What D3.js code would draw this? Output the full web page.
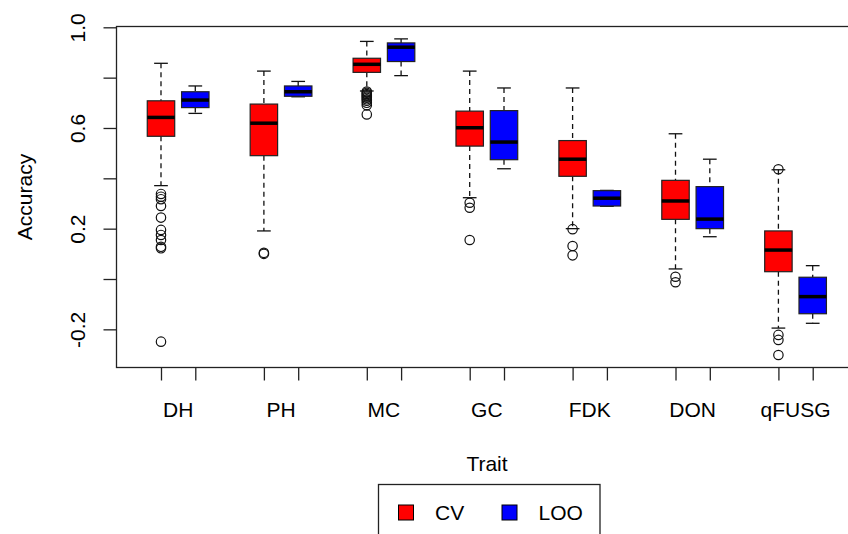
<!DOCTYPE html>
<html>
<head>
<meta charset="utf-8">
<script src="https://cdn.jsdelivr.net/npm/d3@7"></script>
<style>
  body { margin: 0; background: #fff; }
  svg text { font-family: "Liberation Sans", Arial, sans-serif; fill: #000; }
</style>
</head>
<body>
<div id="chart"></div>
<script>
// traits along the x axis
var traits = ["DH", "PH", "MC", "GC", "FDK", "DON", "qFUSG"];

// CV boxes (red)
var cvLow    = [0.371, 0.191, 0.747, 0.323, 0.200, 0.040, -0.195];
var cvQ1     = [0.567, 0.490, 0.821, 0.528, 0.408, 0.237, 0.029];
var cvMedian = [0.642, 0.619, 0.853, 0.601, 0.476, 0.310, 0.115];
var cvQ3     = [0.708, 0.695, 0.877, 0.667, 0.550, 0.392, 0.191];
var cvHigh   = [0.857, 0.826, 0.944, 0.826, 0.759, 0.577, 0.434];
var cvOut = [
    [0.338, 0.327, 0.317, 0.290, 0.244, 0.195, 0.175, 0.155, 0.128, 0.122, -0.249],
    [0.104, 0.100],
    [0.745, 0.740, 0.735, 0.730, 0.725, 0.720, 0.714, 0.708, 0.700, 0.690, 0.654],
    [0.303, 0.283, 0.155],
    [0.198, 0.131, 0.094],
    [0.009, -0.013],
    [0.436, -0.222, -0.242, -0.302]
];

// LOO boxes (blue)
var looLow    = [0.658, 0.724, 0.808, 0.438, 0.289, 0.168, -0.176];
var looQ1     = [0.681, 0.726, 0.864, 0.474, 0.290, 0.200, -0.138];
var looMedian = [0.711, 0.744, 0.921, 0.544, 0.321, 0.238, -0.070];
var looQ3     = [0.744, 0.767, 0.938, 0.669, 0.351, 0.367, 0.007];
var looHigh   = [0.767, 0.785, 0.954, 0.759, 0.352, 0.476, 0.053];
var looOut = [[], [], [], [], [], [], []];

var yTicks = [-0.2, 0, 0.2, 0.4, 0.6, 0.8, 1.0];
var yLabels = ["-0.2", "", "0.2", "", "0.6", "", "1.0"];

var seriesNames = ["CV", "LOO"];
var seriesColors = ["#ff0000", "#0000ff"];

var width = 848, height = 534;

var svg = d3.select("#chart").append("svg")
    .attr("width", width)
    .attr("height", height);

var x = d3.scaleLinear()
    .domain([-0.3, 21.3])
    .range([116.4, 857.3]);

var y = d3.scaleLinear()
    .domain([-0.3524, 1.0052])
    .range([367.7, 26]);

// one record per box, CV at 3k+1 and LOO at 3k+2
var boxes = [];
traits.forEach(function(t, i) {
    boxes.push({ pos: 3 * i + 1, s: 0, low: cvLow[i], q1: cvQ1[i], med: cvMedian[i], q3: cvQ3[i], high: cvHigh[i], out: cvOut[i] });
    boxes.push({ pos: 3 * i + 2, s: 1, low: looLow[i], q1: looQ1[i], med: looMedian[i], q3: looQ3[i], high: looHigh[i], out: looOut[i] });
});

var halfW = x(0.4) - x(0);   // half box width
var capHalf = halfW / 2;     // staples are half as wide as the box

var g = svg.selectAll(".box")
    .data(boxes)
    .enter().append("g")
    .attr("class", "box");

// whiskers
g.append("line")
    .attr("x1", function(d) { return x(d.pos); })
    .attr("x2", function(d) { return x(d.pos); })
    .attr("y1", function(d) { return y(d.high); })
    .attr("y2", function(d) { return y(d.q3); })
    .attr("stroke", "#111")
    .attr("stroke-width", 1.3)
    .attr("stroke-dasharray", "5,4");
g.append("line")
    .attr("x1", function(d) { return x(d.pos); })
    .attr("x2", function(d) { return x(d.pos); })
    .attr("y1", function(d) { return y(d.q1); })
    .attr("y2", function(d) { return y(d.low); })
    .attr("stroke", "#111")
    .attr("stroke-width", 1.3)
    .attr("stroke-dasharray", "5,4");

// staples
g.append("line")
    .attr("x1", function(d) { return x(d.pos) - capHalf; })
    .attr("x2", function(d) { return x(d.pos) + capHalf; })
    .attr("y1", function(d) { return y(d.high); })
    .attr("y2", function(d) { return y(d.high); })
    .attr("stroke", "#111")
    .attr("stroke-width", 1.3);
g.append("line")
    .attr("x1", function(d) { return x(d.pos) - capHalf; })
    .attr("x2", function(d) { return x(d.pos) + capHalf; })
    .attr("y1", function(d) { return y(d.low); })
    .attr("y2", function(d) { return y(d.low); })
    .attr("stroke", "#111")
    .attr("stroke-width", 1.3);

g.append("rect")
    .attr("x", function(d) { return x(d.pos) - halfW; })
    .attr("y", function(d) { return y(d.q3); })
    .attr("width", halfW * 2)
    .attr("height", function(d) { return y(d.q1) - y(d.q3); })
    .attr("fill", function(d) { return seriesColors[d.s]; })
    .attr("stroke", "#222")
    .attr("stroke-width", 1.2);

g.append("line")
    .attr("x1", function(d) { return x(d.pos) - halfW; })
    .attr("x2", function(d) { return x(d.pos) + halfW; })
    .attr("y1", function(d) { return y(d.med); })
    .attr("y2", function(d) { return y(d.med); })
    .attr("stroke", "#000")
    .attr("stroke-width", 3.5);

g.selectAll("circle")
    .data(function(d) { return d.out.map(function(v) { return { pos: d.pos, v: v }; }); })
    .enter().append("circle")
    .attr("cx", function(d) { return x(d.pos); })
    .attr("cy", function(d) { return y(d.v); })
    .attr("r", 4.7)
    .attr("fill", "none")
    .attr("stroke", "#111")
    .attr("stroke-width", 1.2);

// frame
svg.append("rect")
    .attr("x", 116.5)
    .attr("y", 26.5)
    .attr("width", 760)
    .attr("height", 341)
    .attr("fill", "none")
    .attr("stroke", "#222")
    .attr("stroke-width", 1.3);

// y axis
var yAxis = d3.axisLeft(y)
    .tickValues(yTicks)
    .tickSize(13)
    .tickFormat(function(d, i) { return yLabels[i]; });

var yG = svg.append("g")
    .attr("transform", "translate(116.5,0)")
    .call(yAxis);
yG.select(".domain").remove();
yG.selectAll(".tick line").attr("stroke", "#222").attr("stroke-width", 1.3);
yG.selectAll(".tick text")
    .attr("x", 0)
    .attr("y", -31.5)
    .attr("dy", 0)
    .attr("transform", "rotate(-90)")
    .style("text-anchor", "middle")
    .style("font-size", "21px")
    .style("font-family", '"Liberation Sans", Arial, sans-serif');

// x axis: ticks at box positions, labels between pairs
var xAxis = d3.axisBottom(x)
    .tickValues(boxes.map(function(d) { return d.pos; }))
    .tickSize(13)
    .tickFormat("");

var xG = svg.append("g")
    .attr("transform", "translate(0,367.5)")
    .call(xAxis);
xG.select(".domain").remove();
xG.selectAll(".tick line").attr("stroke", "#222").attr("stroke-width", 1.3);

svg.selectAll(".trait")
    .data(traits)
    .enter().append("text")
    .attr("class", "trait")
    .attr("x", function(d, i) { return x(3 * i + 1.5); })
    .attr("y", 416.7)
    .attr("text-anchor", "middle")
    .style("font-size", "21px")
    .text(function(d) { return d; });

svg.append("text")
    .attr("x", 487)
    .attr("y", 470.7)
    .attr("text-anchor", "middle")
    .style("font-size", "21px")
    .text("Trait");

svg.append("text")
    .attr("transform", "translate(31.7,197) rotate(-90)")
    .attr("text-anchor", "middle")
    .style("font-size", "21px")
    .text("Accuracy");

// legend
var legend = svg.append("g");
legend.append("rect")
    .attr("x", 378.5)
    .attr("y", 484.5)
    .attr("width", 221.5)
    .attr("height", 80)
    .attr("fill", "none")
    .attr("stroke", "#222")
    .attr("stroke-width", 1.3);

var legX = [398.5, 502];
var item = legend.selectAll(".item")
    .data(seriesNames)
    .enter().append("g")
    .attr("class", "item");
item.append("rect")
    .attr("x", function(d, i) { return legX[i]; })
    .attr("y", 505)
    .attr("width", 15)
    .attr("height", 15)
    .attr("fill", function(d, i) { return seriesColors[i]; })
    .attr("stroke", "#000");
item.append("text")
    .attr("x", function(d, i) { return legX[i] + 36.5; })
    .attr("y", 520)
    .style("font-size", "21px")
    .text(function(d) { return d; });
</script>
</body>
</html>
